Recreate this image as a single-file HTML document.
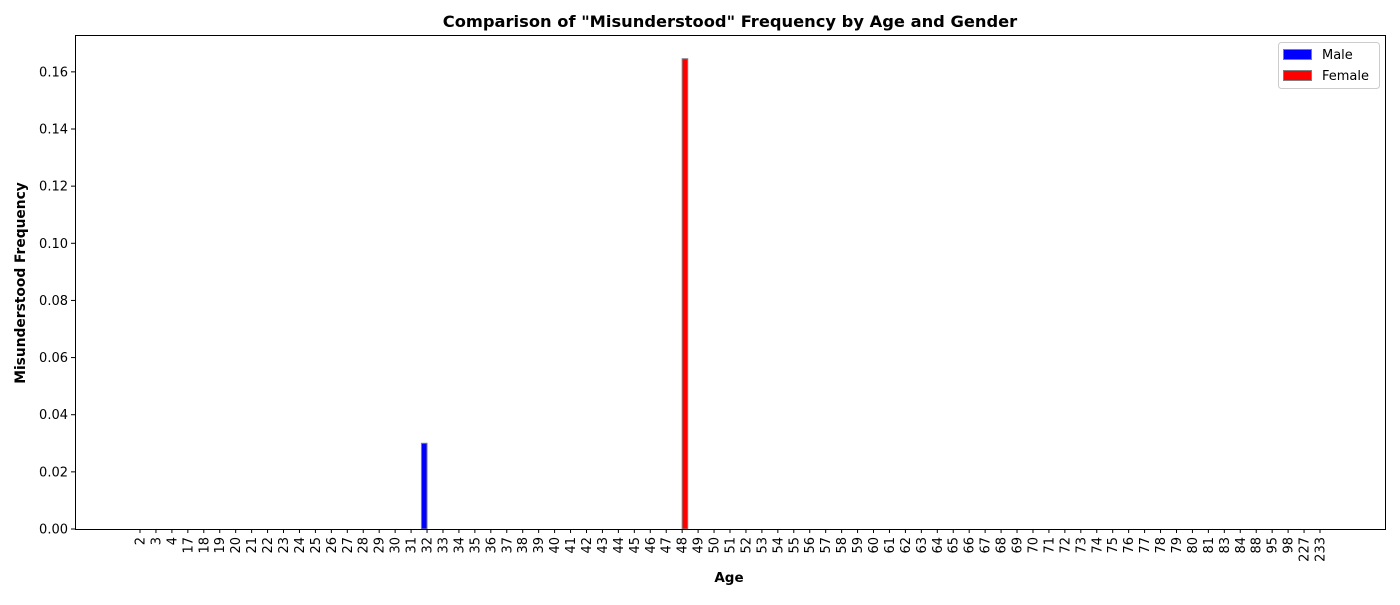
<!DOCTYPE html>
<html><head><meta charset="utf-8"><style>
body{margin:0;background:#fff;font-family:"Liberation Sans","DejaVu Sans",sans-serif;}
svg text{font-family:"DejaVu Sans","Liberation Sans",sans-serif;}
</style></head><body>
<svg id="chart" width="1400" height="600" xmlns="http://www.w3.org/2000/svg">
<rect x="0" y="0" width="1400" height="600" fill="#fff"/>
<text x="730" y="27" text-anchor="middle" font-size="16.3" font-weight="bold">Comparison of "Misunderstood" Frequency by Age and Gender</text>
<g id="plot"></g>
<rect x="75.5" y="35.5" width="1310" height="494" fill="none" stroke="#000" stroke-width="1"/>
<text x="729" y="582" text-anchor="middle" font-size="13.5" font-weight="bold">Age</text>
<text transform="translate(25,283) rotate(-90)" text-anchor="middle" font-size="13.8" font-weight="bold">Misunderstood Frequency</text>
<g>
<rect x="1278.5" y="42.5" width="101" height="46" rx="3" fill="#fff" stroke="#ccc"/>
<rect x="1283.5" y="49.5" width="28" height="10" fill="#0000ff" stroke="#808080"/>
<text x="1322" y="59" font-size="13">Male</text>
<rect x="1283.5" y="70.5" width="28" height="10" fill="#ff0000" stroke="#808080"/>
<text x="1322" y="80" font-size="13">Female</text>
</g>
</svg>
<script>
const ages = [2,3,4,17,18,19,20,21,22,23,24,25,26,27,28,29,30,31,32,33,34,35,36,37,38,39,40,41,42,43,44,45,46,47,48,49,50,51,52,53,54,55,56,57,58,59,60,61,62,63,64,65,66,67,68,69,70,71,72,73,74,75,76,77,78,79,80,81,83,84,88,95,98,227,233];
const maleAges = [32];
const maleValues = [0.03];
const femaleAges = [48];
const femaleValues = [0.1646];
const yTicks = [0,0.02,0.04,0.06,0.08,0.10,0.12,0.14,0.16];
const yMax = 0.1729;

const NS="http://www.w3.org/2000/svg";
const plotG=document.getElementById('plot');
const X0=140, STEP=(1320-140)/74, PTOP=35, PBOTTOM=529;
function xs(i){return X0+i*STEP;}
function ys(v){return PBOTTOM-(v/yMax)*(PBOTTOM-PTOP);}
function mk(tag,attrs){const e=document.createElementNS(NS,tag);for(const k in attrs)e.setAttribute(k,attrs[k]);plotG.appendChild(e);return e;}
const bw=STEP*0.35;
ages.forEach((a,i)=>{
  const x=xs(i);
  const t=mk('line',{x1:x,x2:x,y1:PBOTTOM,y2:PBOTTOM+4,stroke:'#000'});
  
  
  const l=mk('text',{transform:`translate(${x+4.5},${PBOTTOM+8}) rotate(-90)`,'text-anchor':'end','font-size':'13'});
  l.textContent=a;
  
  
});
yTicks.forEach(v=>{
  const y=ys(v);
  const t=mk('line',{x1:71,x2:75,y1:y,y2:y,stroke:'#000'});
  
  
  const l=mk('text',{x:68,y:y+4.5,'text-anchor':'end','font-size':'13'});
  l.textContent=v.toFixed(2);
  
  
});
maleAges.forEach((a,k)=>{
  const i=ages.indexOf(a);const y=ys(maleValues[k]);
  const r=mk('rect',{x:xs(i)-bw,y:y,width:bw,height:PBOTTOM-y,fill:'#0000ff',stroke:'#808080','stroke-width':1});
  
  
});
femaleAges.forEach((a,k)=>{
  const i=ages.indexOf(a);const y=ys(femaleValues[k]);
  const r=mk('rect',{x:xs(i),y:y,width:bw,height:PBOTTOM-y,fill:'#ff0000',stroke:'#808080','stroke-width':1});
  
  
});
</script>
</body></html>
